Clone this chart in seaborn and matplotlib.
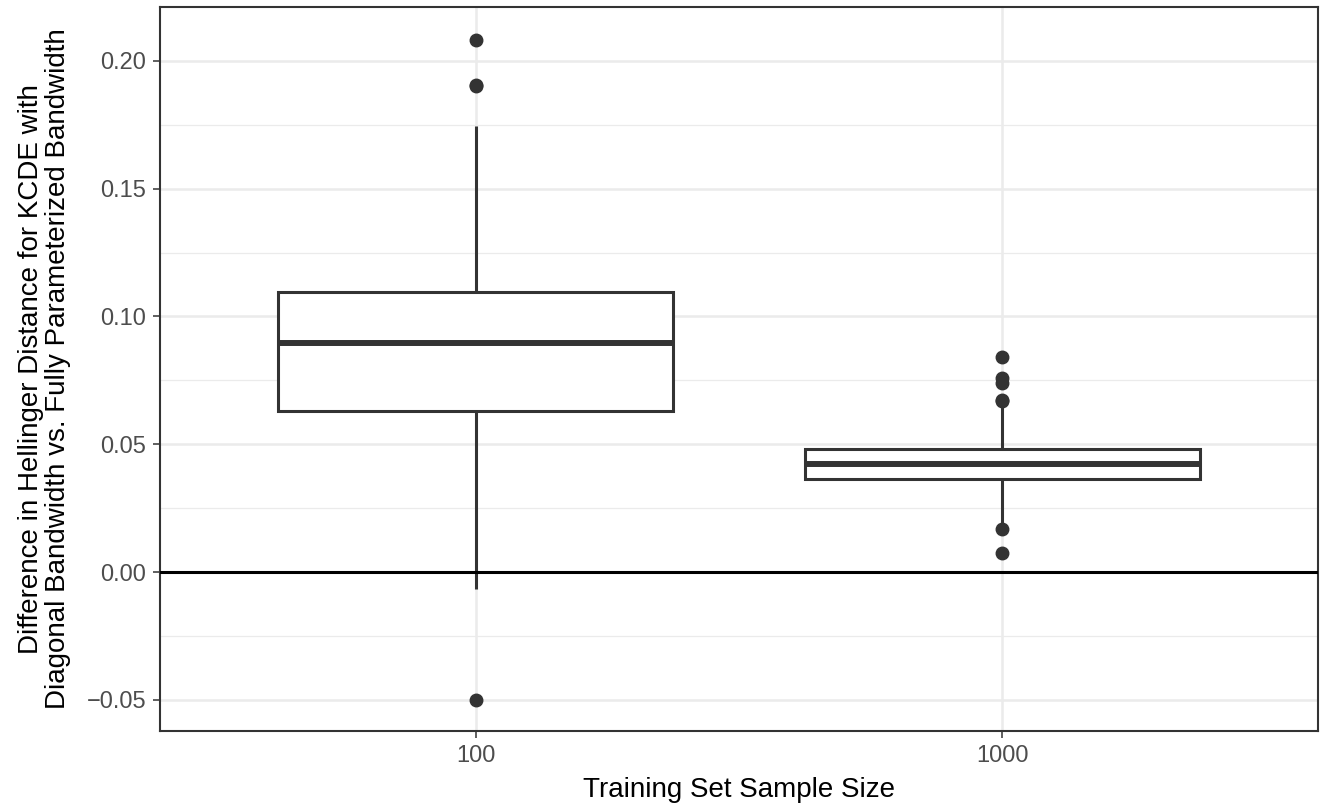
import pandas as pd
import matplotlib
matplotlib.use("Agg")
import matplotlib.pyplot as plt
import seaborn as sns
from matplotlib.ticker import MultipleLocator, FuncFormatter

# training set sizes (x categories)
sizes = ["100", "1000"]

# differences, one list per training set size
diff_100 = [-0.0500, -0.0068, 0.0350, 0.0520, 0.0630, 0.0720, 0.0800, 0.0860,
            0.0898, 0.0950, 0.1000, 0.1050, 0.1097, 0.1746, 0.1902, 0.1906,
            0.2082]
diff_1000 = [0.0076, 0.0167, 0.0192, 0.0260, 0.0310, 0.0340, 0.0363, 0.0375,
             0.0385, 0.0395, 0.0405, 0.0413, 0.0421, 0.0430, 0.0440, 0.0452,
             0.0462, 0.0472, 0.0481, 0.0650, 0.0668, 0.0672, 0.0739, 0.0758,
             0.0843]

df = pd.DataFrame({
    "size": [sizes[0]] * len(diff_100) + [sizes[1]] * len(diff_1000),
    "diff": diff_100 + diff_1000,
})

sns.set_theme(style="white")
plt.rcParams["font.family"] = ["Liberation Sans", "DejaVu Sans"]

fig, ax = plt.subplots(figsize=(13.23, 8.08), dpi=100)
fig.subplots_adjust(left=0.1209, right=0.9962, top=0.9913, bottom=0.0953)

sns.boxplot(data=df, x="size", y="diff", order=sizes, width=0.75,
            color="white", saturation=1, linecolor="#333333", linewidth=2.2,
            whis=1.5, fliersize=9,
            flierprops=dict(marker="o", markerfacecolor="#333333",
                            markeredgecolor="#333333"),
            medianprops=dict(linewidth=4.3),
            capprops=dict(linewidth=0), ax=ax)

# ggplot theme_bw style grid
ax.set_axisbelow(True)
ax.yaxis.set_major_locator(MultipleLocator(0.05))
ax.yaxis.set_minor_locator(MultipleLocator(0.025))
ax.grid(which="major", axis="both", color="#EBEBEB", linewidth=1.8)
ax.grid(which="minor", axis="y", color="#EBEBEB", linewidth=0.9)
ax.xaxis.grid(True, which="major", color="#EBEBEB", linewidth=1.8)

ax.axhline(0, color="black", linewidth=2.2, zorder=3)

ax.set_xlim(-0.6, 1.6)
ax.set_ylim(-0.0622, 0.2211)

ax.yaxis.set_major_formatter(
    FuncFormatter(lambda v, p: ("%.2f" % v).replace("-0.00", "0.00").replace("-", "\u2212")))

ax.tick_params(which="major", length=5, width=1.1, color="#333333",
               labelcolor="#4D4D4D", labelsize=17, pad=5)
ax.tick_params(which="minor", length=0)
ax.tick_params(axis="x", bottom=True)
ax.tick_params(axis="y", left=True)

for sp in ax.spines.values():
    sp.set_visible(True)
    sp.set_color("#333333")
    sp.set_linewidth(1.5)

ax.set_xlabel("Training Set Sample Size", fontsize=20, color="black", labelpad=7)
ax.set_ylabel("Difference in Hellinger Distance for KCDE with\n"
              "Diagonal Bandwidth vs. Fully Parameterized Bandwidth",
              fontsize=20, color="black", linespacing=1.05, labelpad=11)

fig.savefig("out.png", dpi=100)
